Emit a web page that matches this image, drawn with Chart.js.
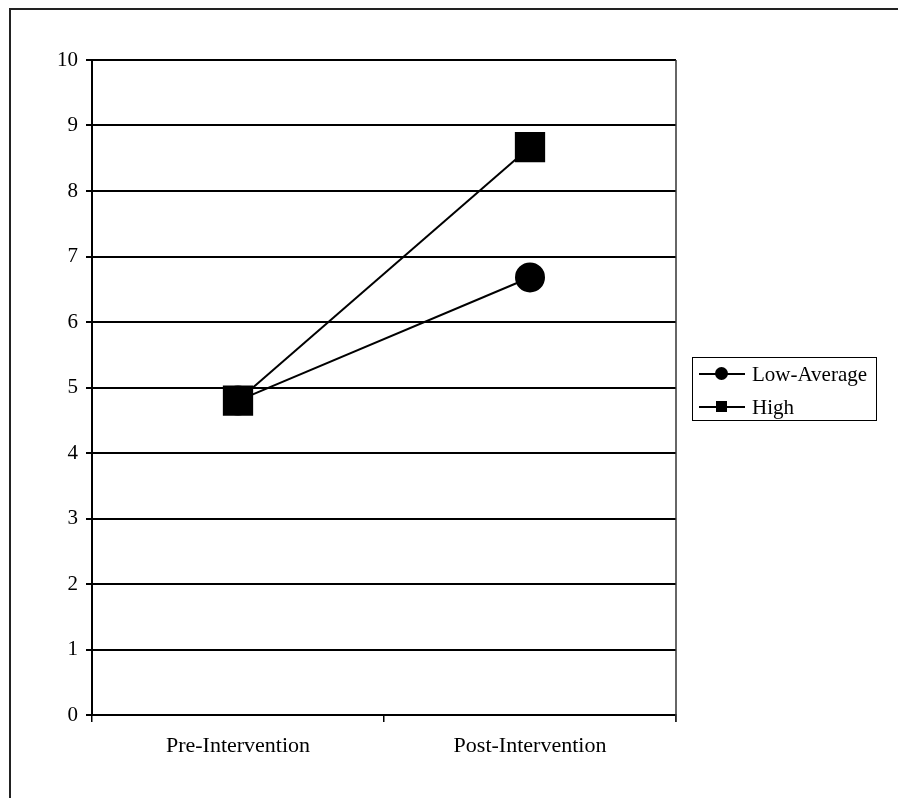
<!DOCTYPE html>
<html>
<head>
<meta charset="utf-8">
<script src="https://cdn.jsdelivr.net/npm/chart.js@4.4.1/dist/chart.umd.min.js"></script>
<style>
  html, body { margin: 0; padding: 0; background: #fff; overflow: hidden; }
  #wrap { position: relative; width: 898px; height: 798px; }
  #frame { position: absolute; left: 9px; top: 8px; right: -4px; bottom: -4px; border-top: 2px solid #222; border-left: 2px solid #222; }
  #legend { position: absolute; left: 692px; top: 357px; width: 183px; height: 62px; border: 1.5px solid #000;
            font-family: "Liberation Serif", serif; font-size: 21px; color: #000; }
  .row { position: absolute; left: 6px; height: 24px; display: flex; align-items: center; }
  .sample { position: relative; width: 46px; height: 24px; margin-right: 7px; }
  .sample .ln { position: absolute; left: 0; right: 0; top: 11px; height: 2px; background: #000; }
  .sample .mk { position: absolute; left: 17px; top: 6px; width: 11px; height: 11px; background: #000; }
  .sample .mk.circle { left: 16px; top: 5px; width: 13px; height: 13px; border-radius: 50%; }
</style>
</head>
<body>
<div id="wrap">
  <canvas id="chart"></canvas>
  <div id="frame"></div>
  <div id="legend"></div>
</div>
<script>
const categories = ["Pre-Intervention", "Post-Intervention"];
const seriesNames = ["Low-Average", "High"];
const lowAverage = [4.8, 6.68];
const high = [4.8, 8.67];
const yMin = 0;
const yMax = 10;
const yStep = 1;

Chart.defaults.font.family = '"Liberation Serif", serif';
Chart.defaults.font.size = 21;
Chart.defaults.color = "#000";

// right edge of the plot area
const plotBorder = {
    id: "plotBorder",
    afterDatasetsDraw(chart){
        const a = chart.chartArea;
        const ctx = chart.ctx;
        ctx.save();
        ctx.strokeStyle = "#333";
        ctx.lineWidth = 1.5;
        ctx.beginPath();
        ctx.moveTo(a.right, a.top);
        ctx.lineTo(a.right, a.bottom + 7);
        ctx.stroke();
        ctx.restore();
    }
};

const chart = new Chart(document.getElementById("chart"), {
    type: "line",
    data: {
        labels: categories,
        datasets: [
            {
                label: seriesNames[0],
                data: lowAverage,
                borderColor: "#000",
                backgroundColor: "#000",
                borderWidth: 2,
                pointStyle: "circle",
                pointRadius: 14,
                pointHoverRadius: 14,
                tension: 0,
                order: 1
            },
            {
                label: seriesNames[1],
                data: high,
                borderColor: "#000",
                backgroundColor: "#000",
                borderWidth: 2,
                pointStyle: "rect",
                pointRadius: 20,
                pointHoverRadius: 20,
                tension: 0,
                order: 0
            }
        ]
    },
    options: {
        responsive: true,
        maintainAspectRatio: false,
        animation: false,
        layout: { padding: { left: 0, top: 60, right: 222, bottom: 0 } },
        plugins: {
            legend: { display: false },
            tooltip: { enabled: false }
        },
        scales: {
            x: {
                offset: true,
                grid: { offset: true, drawOnChartArea: false, drawTicks: true, tickLength: 7, color: "#000", lineWidth: 1.5 },
                border: { display: true, color: "#000", width: 2 },
                ticks: { padding: 11, color: "#000", maxRotation: 0, font: { size: 22 } },
                afterFit(scale){ scale.height = 83; }
            },
            y: {
                min: yMin,
                max: yMax,
                ticks: { stepSize: yStep, padding: 8, color: "#000" },
                grid: { color: "#000", lineWidth: 2, tickLength: 6 },
                border: { display: true, color: "#000", width: 2 },
                afterFit(scale){ scale.width = 92; }
            }
        }
    },
    plugins: [plotBorder]
});

// legend with the dataset names
const legend = document.getElementById("legend");
chart.data.datasets.forEach((ds, i) => {
    const row = document.createElement("div");
    row.className = "row";
    row.style.top = (i === 0 ? 4 : 37) + "px";
    const shape = ds.pointStyle === "circle" ? "mk circle" : "mk";
    row.innerHTML = `<span class="sample"><span class="ln"></span><span class="${shape}"></span></span><span>${ds.label}</span>`;
    legend.appendChild(row);
});
</script>
</body>
</html>
